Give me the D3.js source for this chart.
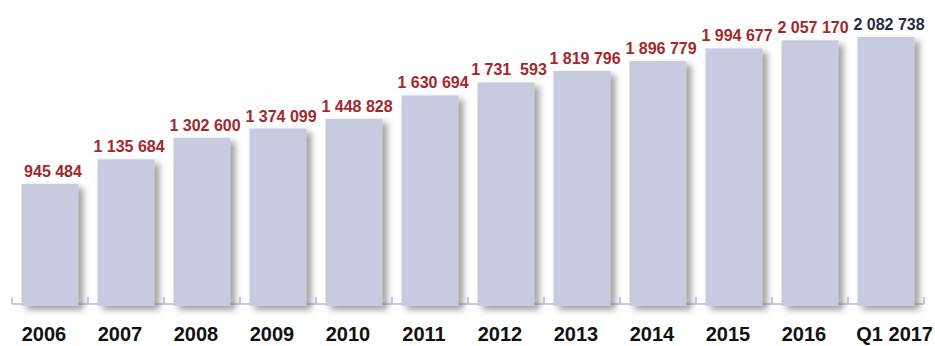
<!DOCTYPE html>
<html>
<head>
<meta charset="utf-8">
<script src="https://cdn.jsdelivr.net/npm/d3@7"></script>
<style>
  html, body { margin: 0; padding: 0; background: #fff; }
  svg { display: block; }
</style>
</head>
<body>
<svg id="chart" width="935" height="346"></svg>
<script>
// Yearly totals, with the first quarter of 2017 as the final column
const categories = ["2006", "2007", "2008", "2009", "2010", "2011", "2012", "2013", "2014", "2015", "2016", "Q1 2017"];
const values = [945484, 1135684, 1302600, 1374099, 1448828, 1630694, 1731593, 1819796, 1896779, 1994677, 2057170, 2082738];
const valueLabels = ["945 484", "1 135 684", "1 302 600", "1 374 099", "1 448 828", "1 630 694", "1 731  593", "1 819 796", "1 896 779", "1 994 677", "2 057 170", "2 082 738"];

const svg = d3.select("#chart");
const baseY = 306;

const x = d3.scaleBand()
  .domain(categories)
  .range([12, 924])
  .paddingInner(0.25)
  .paddingOuter(0.125);

const y = d3.scaleLinear()
  .domain([0, 2082738])
  .range([baseY, 37]);

// soft drop shadow under each bar
const defs = svg.append("defs");
const f = defs.append("filter")
  .attr("id", "shadow")
  .attr("x", "-20%").attr("y", "-10%")
  .attr("width", "150%").attr("height", "130%");
f.append("feDropShadow")
  .attr("dx", 5).attr("dy", 4)
  .attr("stdDeviation", 3)
  .attr("flood-color", "#555")
  .attr("flood-opacity", 0.55);

// baseline with tick marks at band edges
const axisY = 304;
const edges = d3.range(categories.length + 1).map(i => x.range()[0] + i * x.step());
svg.append("line")
  .attr("x1", 12).attr("x2", 924)
  .attr("y1", axisY).attr("y2", axisY)
  .attr("stroke", "#b9bcd4").attr("stroke-width", 1.5);
svg.selectAll("line.tick")
  .data(edges)
  .join("line")
  .attr("class", "tick")
  .attr("x1", d => d).attr("x2", d => d)
  .attr("y1", axisY - 7).attr("y2", axisY)
  .attr("stroke", "#b9bcd4").attr("stroke-width", 1.5);

// bars
svg.selectAll("rect.bar")
  .data(values)
  .join("rect")
  .attr("class", "bar")
  .attr("x", (d, i) => x(categories[i]))
  .attr("width", x.bandwidth())
  .attr("y", d => y(d))
  .attr("height", d => baseY - y(d))
  .attr("fill", "#c8cadd")
  .attr("filter", "url(#shadow)");

// value labels above bars
const last = categories.length - 1;
svg.selectAll("text.val")
  .data(values)
  .join("text")
  .attr("class", "val")
  .attr("x", (d, i) => x(categories[i]) + x.bandwidth() / 2 + 3)
  .attr("y", d => y(d) - 7)
  .attr("text-anchor", "middle")
  .attr("font-family", "'Liberation Sans', Arial, sans-serif")
  .attr("font-weight", "bold")
  .attr("font-size", 16)
  .attr("fill", (d, i) => i === last ? "#262c44" : "#a3282c")
  .style("white-space", "pre")
  .text((d, i) => valueLabels[i]);

// category labels
svg.selectAll("text.cat")
  .data(categories)
  .join("text")
  .attr("class", "cat")
  .attr("x", (d, i) => i === last ? 933 : x(d) + x.bandwidth() / 2 - 6)
  .attr("y", 341)
  .attr("text-anchor", (d, i) => i === last ? "end" : "middle")
  .attr("font-family", "'Liberation Sans', Arial, sans-serif")
  .attr("font-weight", "bold")
  .attr("font-size", 20)
  .attr("fill", "#111")
  .text(d => d);
</script>
</body>
</html>
